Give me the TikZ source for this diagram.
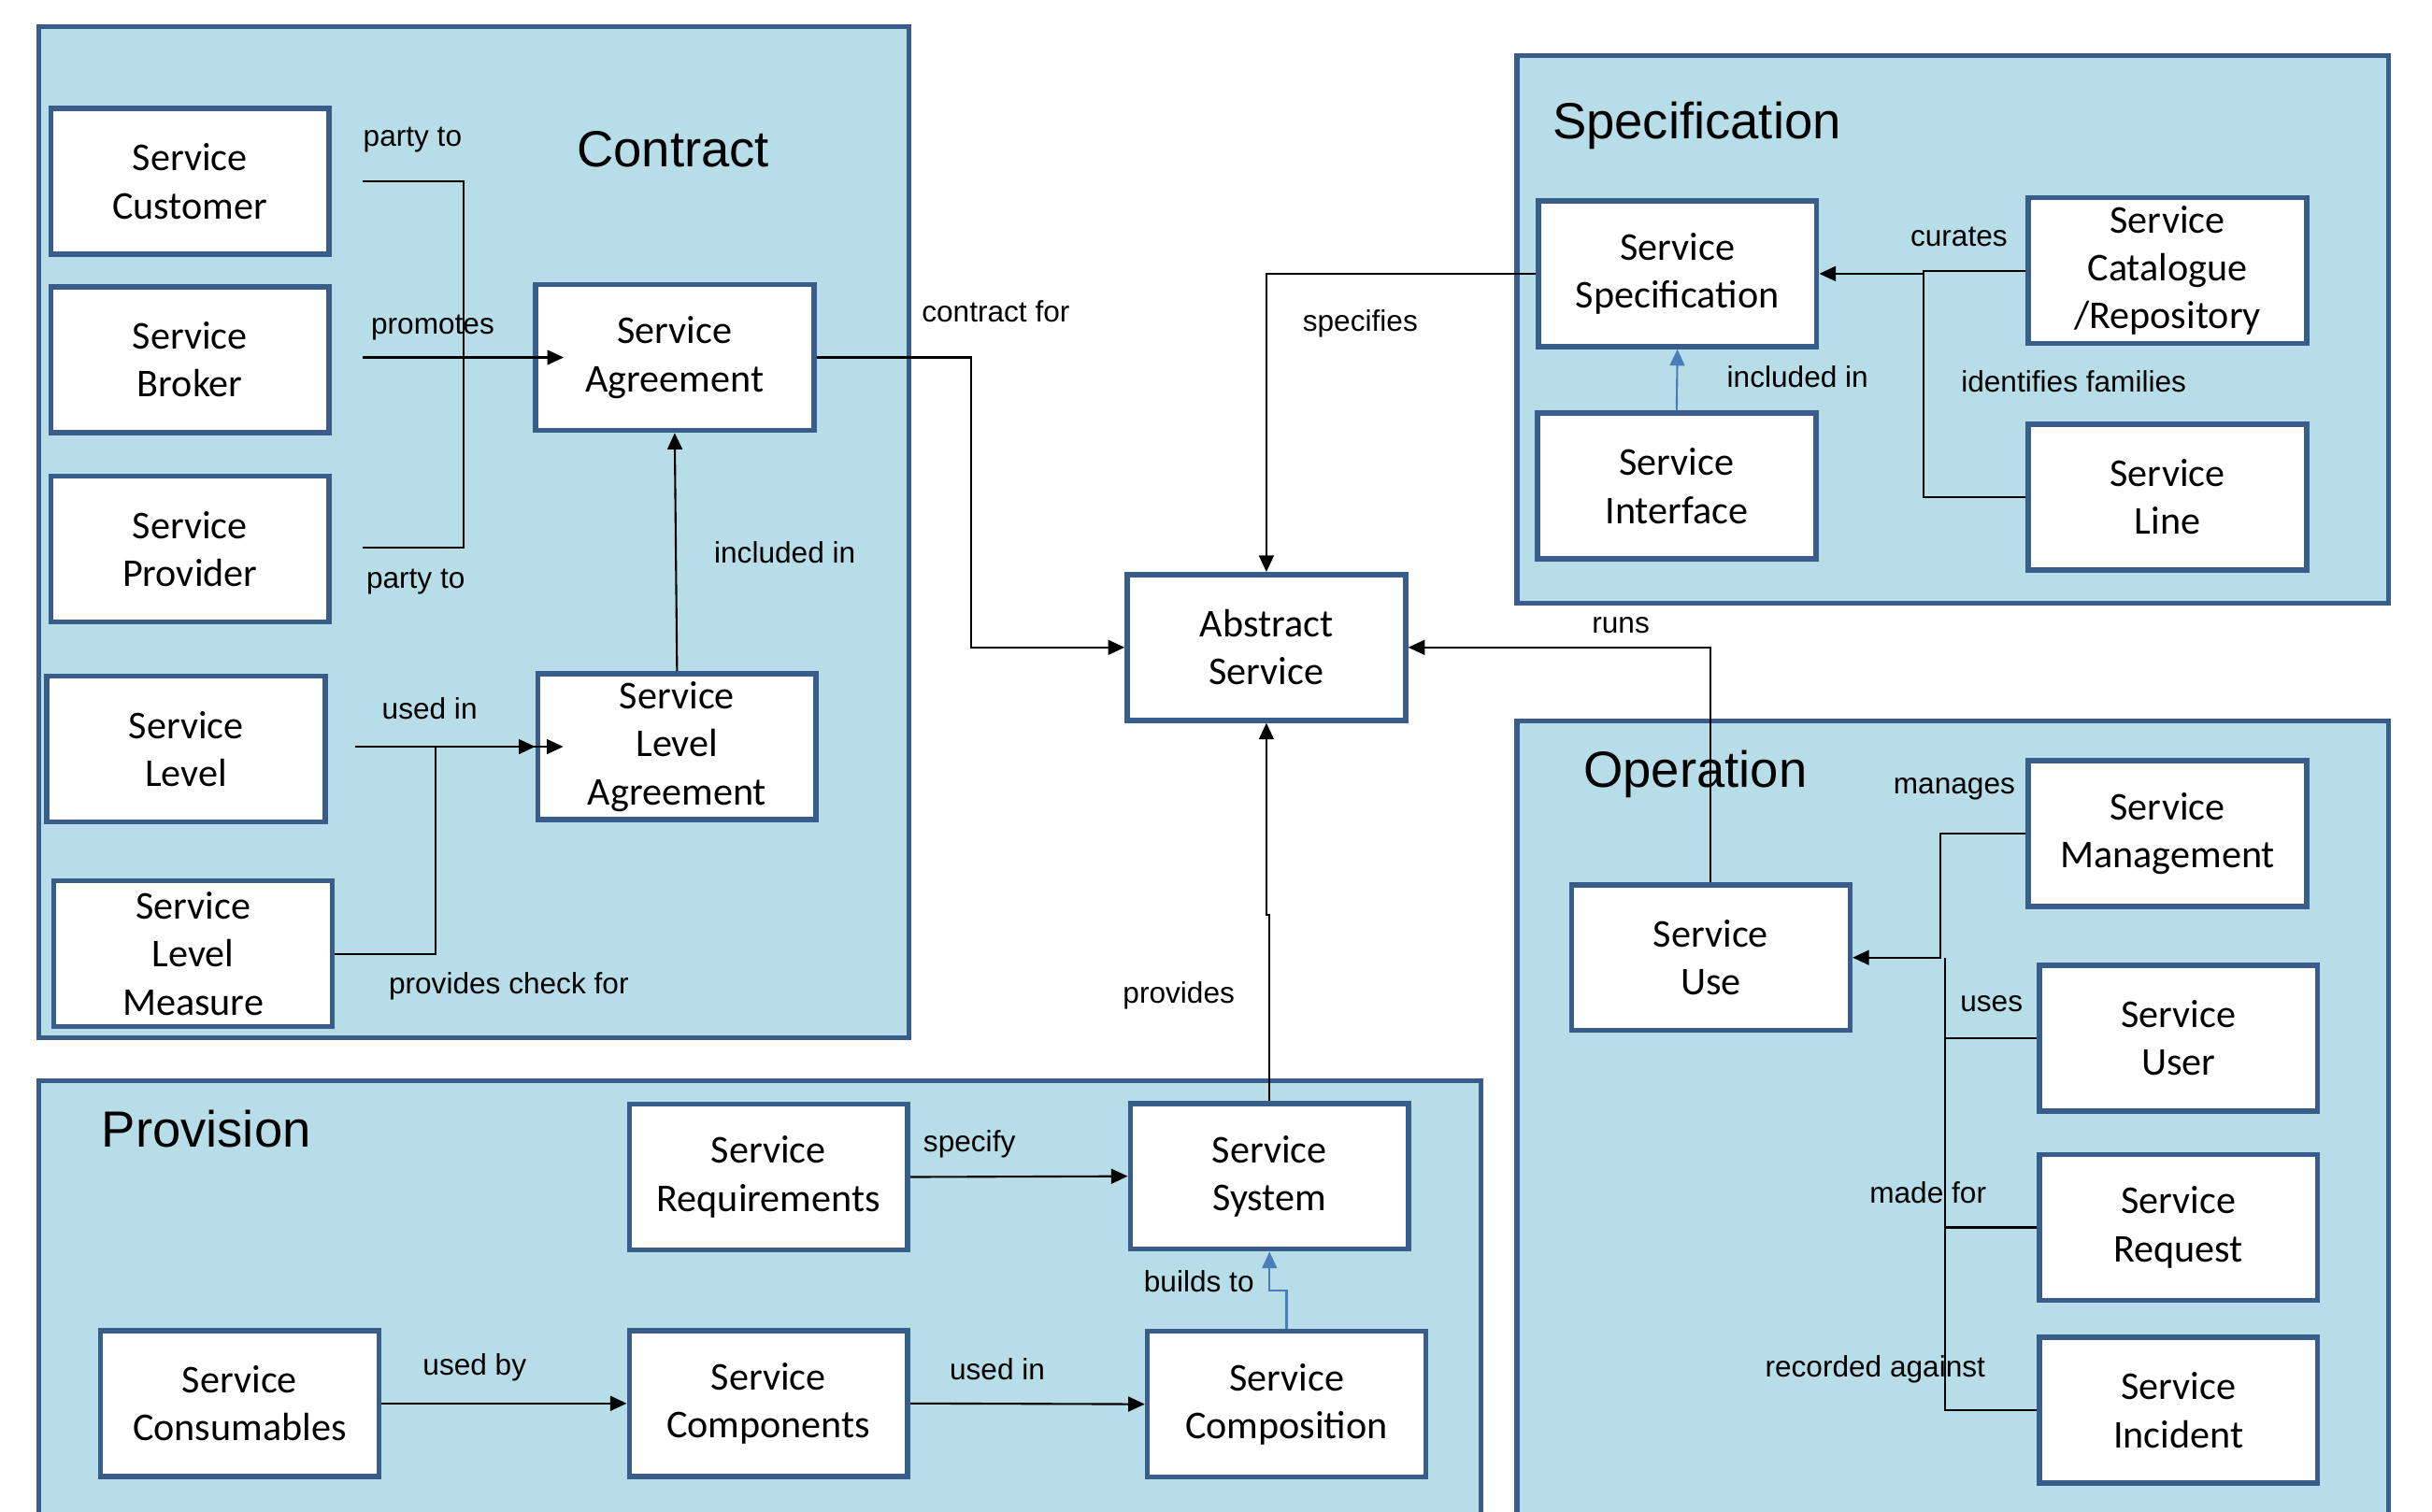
\documentclass[tikz,border=0pt]{standalone}
\usepackage{fontspec}
\usetikzlibrary{arrows.meta}
\newfontfamily\boxfont{Carlito}
\newfontfamily\lblfont{Liberation Sans}
\definecolor{edge}{HTML}{385D8A}
\definecolor{panelfill}{HTML}{B7DDE8}
\definecolor{linkblue}{HTML}{4A7EBB}

\begin{document}
\begin{tikzpicture}[x=0.016594cm, y=-0.016594cm,
  panel/.style={draw=edge, line width=1.5pt, fill=panelfill},
  item/.style={draw=edge, line width=1.6pt, fill=white, minimum width=2.98cm,
               minimum height=1.56cm, align=center, inner sep=1pt,
               font=\boxfont\fontsize{12}{14.6}\selectfont},
  lbl/.style={font=\lblfont\fontsize{9}{11}\selectfont, inner sep=0pt},
  title/.style={font=\lblfont\fontsize{15.5}{18}\selectfont, inner sep=0pt},
  wire/.style={line width=0.6pt},
  link/.style={wire, -{Triangle[length=5pt, width=4.5pt]}},
  bluelink/.style={draw=linkblue, line width=0.6pt, -{Triangle[length=5pt, width=4.5pt]}}]
  \useasboundingbox (0,0) rectangle (1568,975);
  \clip (0,0) rectangle (1568,975);

  \draw[panel] (25,17) rectangle (586,669);
  \draw[panel] (978,36) rectangle (1540,389);
  \draw[panel] (978,465) rectangle (1540,1010);
  \draw[panel] (25,697) rectangle (955,1010);

  \node[title] (tcontract) at (434,96) {Contract};
  \node[title] (tspec) at (1094,81) {Specification};
  \node[title] (toper) at (1093,499) {Operation};
  \node[title] (tprov) at (133,728) {Provision};

  \node[item] (cust) at (122.5,117) {Service\\Customer};
  \node[item] (broker) at (122.5,232) {Service\\Broker};
  \node[item] (prov) at (122.5,354) {Service\\Provider};
  \node[item] (slevel) at (120,483) {Service\\Level};
  \node[item] (slm) at (124.5,615) {Service\\Level\\Measure};
  \node[item] (agree) at (435,230.5) {Service\\Agreement};
  \node[item] (sla) at (436.5,481.5) {Service\\Level\\Agreement};
  \node[item] (abs) at (816.5,417.5) {Abstract\\Service};
  \node[item] (spec) at (1081.5,176.5) {Service\\Specification};
  \node[item] (iface) at (1081,313.5) {Service\\Interface};
  \node[item] (cat) at (1397.5,174.5) {Service\\Catalogue\\/Repository};
  \node[item] (sline) at (1397.5,320.5) {Service\\Line};
  \node[item] (use) at (1103,617.5) {Service\\Use};
  \node[item] (mgmt) at (1397.5,537.5) {Service\\Management};
  \node[item] (user) at (1404.5,669.5) {Service\\User};
  \node[item] (req) at (1404.5,791.5) {Service\\Request};
  \node[item] (inc) at (1404.5,909.5) {Service\\Incident};
  \node[item] (reqs) at (495.5,759) {Service\\Requirements};
  \node[item] (sys) at (818.5,758.5) {Service\\System};
  \node[item] (cons) at (154.5,905) {Service\\Consumables};
  \node[item] (comp) at (495.5,905) {Service\\Components};
  \node[item] (compo) at (829.5,905.5) {Service\\Composition};

  \node[lbl] (lparty1) at (266,90) {party to};
  \node[lbl] (lpromo) at (279,211) {promotes};
  \node[lbl] (lparty2) at (268,375) {party to};
  \node[lbl] (lincl1) at (506,356) {included in};
  \node[lbl] (lused1) at (277,457) {used in};
  \node[lbl] (lcheck) at (328,636) {provides check for};
  \node[lbl] (lcontr) at (642,201) {contract for};
  \node[lbl] (lspecs) at (877,209) {specifies};
  \node[lbl] (lcur) at (1263,153) {curates};
  \node[lbl] (lincl2) at (1159,243) {included in};
  \node[lbl] (lfam) at (1337,246) {identifies families};
  \node[lbl] (lruns) at (1045,403) {runs};
  \node[lbl] (lman) at (1260,509) {manages};
  \node[lbl] (luses) at (1284,647) {uses};
  \node[lbl] (lmade) at (1243,769) {made for};
  \node[lbl] (lrec) at (1209,883) {recorded against};
  \node[lbl] (lspecy) at (625,738) {specify};
  \node[lbl] (lusedby) at (306,882) {used by};
  \node[lbl] (lused2) at (643,883) {used in};
  \node[lbl] (lbuild) at (773,826) {builds to};
  \node[lbl] (lprovs) at (760,642) {provides};

  \coordinate (pcust) at (234,117);
  \coordinate (pprov) at (234,353);
  \coordinate (pjoin) at (299,235);
  \coordinate (pbrok) at (234,230.5);
  \coordinate (ulevel) at (229,481.5);
  \coordinate (ujoin) at (281,481.5);
  \coordinate (cfbend) at (626,230.5);
  \coordinate (sjoin) at (1240,176.5);
  \coordinate (ojoin) at (1251,617.5);
  \coordinate (ojoin2) at (1254,617.5);
  \coordinate (bjog) at (818.5,832);
  \coordinate (pjog) at (818.5,590);

  \draw[wire] (pcust) -| (pjoin) |- (pprov);
  \draw[link] (pbrok) -- ([xshift=0.33cm]agree.west);
  \draw[link] (ulevel) -- ([xshift=0.3cm]sla.west);
  \draw[link] (slm.east) -| (ujoin) -- (sla.west);
  \draw[link] (sla.north) -- (agree.south);
  \draw[link] (agree.east) -- (cfbend) |- (abs.west);
  \draw[link] (spec.west) -| (abs.north);
  \draw[link] (cat.west) -| (sjoin) -- (spec.east);
  \draw[wire] (sline.west) -| (sjoin);
  \draw[bluelink] (iface.north) -- (spec.south);
  \draw[link] (use.north) |- (abs.east);
  \draw[link] (mgmt.west) -| (ojoin) -- (use.east);
  \draw[wire] (user.west) -| (ojoin2);
  \draw[wire] (req.west) -| (ojoin2);
  \draw[wire] (inc.west) -| (ojoin2);
  \draw[link] (reqs.east) -- (sys.west);
  \draw[link] (cons.east) -- (comp.west);
  \draw[link] (comp.east) -- (compo.west);
  \draw[bluelink] (compo.north) |- (bjog) -- (sys.south);
  \draw[link] (sys.north) -- (pjog) -| (abs.south);
\end{tikzpicture}
\end{document}
